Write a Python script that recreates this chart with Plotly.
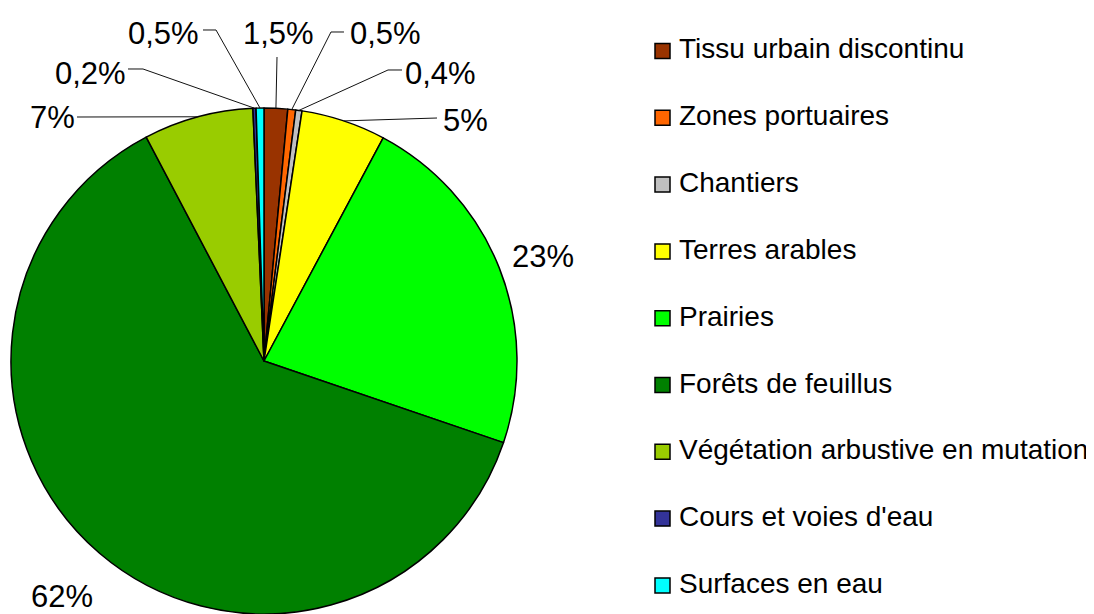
import math
import plotly.graph_objects as go

categories = ["Tissu urbain discontinu", "Zones portuaires", "Chantiers", "Terres arables",
              "Prairies", "Forêts de feuillus", "Végétation arbustive en mutation",
              "Cours et voies d'eau", "Surfaces en eau"]
values = [1.5, 0.5, 0.4, 5.4, 22.4, 62.0, 7.0, 0.2, 0.5]
pct_labels = ["1,5%", "0,5%", "0,4%", "5%", "23%", "62%", "7%", "0,2%", "0,5%"]
colors = ["#993300", "#FF6600", "#C0C0C0", "#FFFF00", "#00FF00", "#008000",
          "#99CC00", "#333399", "#00FFFF"]

# page body has an 8px margin; lay out in window pixels and convert
OFF = 8
W, H = 1094 - OFF, 614 - OFF
CX, CY, R = 264, 361, 253

def px(x):
    return (x - OFF) / W

def py(y):
    return 1 - (y - OFF) / H

fig = go.Figure()
fig.add_trace(go.Pie(
    labels=categories, values=values, sort=False, direction="clockwise", rotation=0,
    marker=dict(colors=colors, line=dict(color="black", width=1.5)),
    textinfo="none", hoverinfo="label+percent", showlegend=False,
    domain=dict(x=[px(CX - R), px(CX + R)], y=[max(0, py(CY + R)), py(CY - R)]),
))

label_layout = [
    dict(tx=278, ty=33, path=[(277, 57)]),
    dict(tx=385, ty=33, path=[(344, 32), (331, 32)]),
    dict(tx=440, ty=73, path=[(402, 70), (388, 70)]),
    dict(tx=465, ty=121, path=[(437, 118)]),
    dict(tx=543, ty=256, path=None),
    dict(tx=62, ty=596, path=None),
    dict(tx=52, ty=118, path=[(77, 117)]),
    dict(tx=90, ty=73, path=[(128, 69), (143, 69)]),
    dict(tx=163, ty=33, path=[(203, 30), (216, 30)]),
]

shapes = []
annotations = []
total = sum(values)
cum = 0.0
for i, v in enumerate(values):
    mid = (cum + v / 2) / total * 2 * math.pi
    cum += v
    lay = label_layout[i]
    if lay["path"]:
        ex = CX + R * math.sin(mid)
        ey = CY - R * math.cos(mid)
        pts = lay["path"] + [(ex, ey)]
        d = "M " + " L ".join(f"{px(x):.5f},{py(y):.5f}" for x, y in pts)
        shapes.append(dict(type="path", path=d, xref="paper", yref="paper",
                           line=dict(color="#111111", width=1)))
    annotations.append(dict(x=px(lay["tx"]), y=py(lay["ty"]), xref="paper", yref="paper",
                            text=pct_labels[i], showarrow=False, xanchor="center",
                            yanchor="middle",
                            font=dict(family="Liberation Sans, Arial", size=31, color="black")))

for i, (cat, col) in enumerate(zip(categories, colors)):
    yc = 51 + i * 66.8
    shapes.append(dict(type="rect", xref="paper", yref="paper",
                       x0=px(655), x1=px(670), y0=py(yc - 7.5), y1=py(yc + 7.5),
                       fillcolor=col, line=dict(color="black", width=1.5)))
    annotations.append(dict(x=px(677), y=py(yc - 2), xref="paper", yref="paper",
                            text=cat, showarrow=False, xanchor="left", yanchor="middle",
                            font=dict(family="Liberation Sans, Arial", size=28, color="black")))

fig.update_layout(
    width=W, height=H, margin=dict(l=0, r=0, t=0, b=0),
    paper_bgcolor="white", plot_bgcolor="white",
    shapes=shapes, annotations=annotations, showlegend=False,
)
fig.write_html("out.html")
